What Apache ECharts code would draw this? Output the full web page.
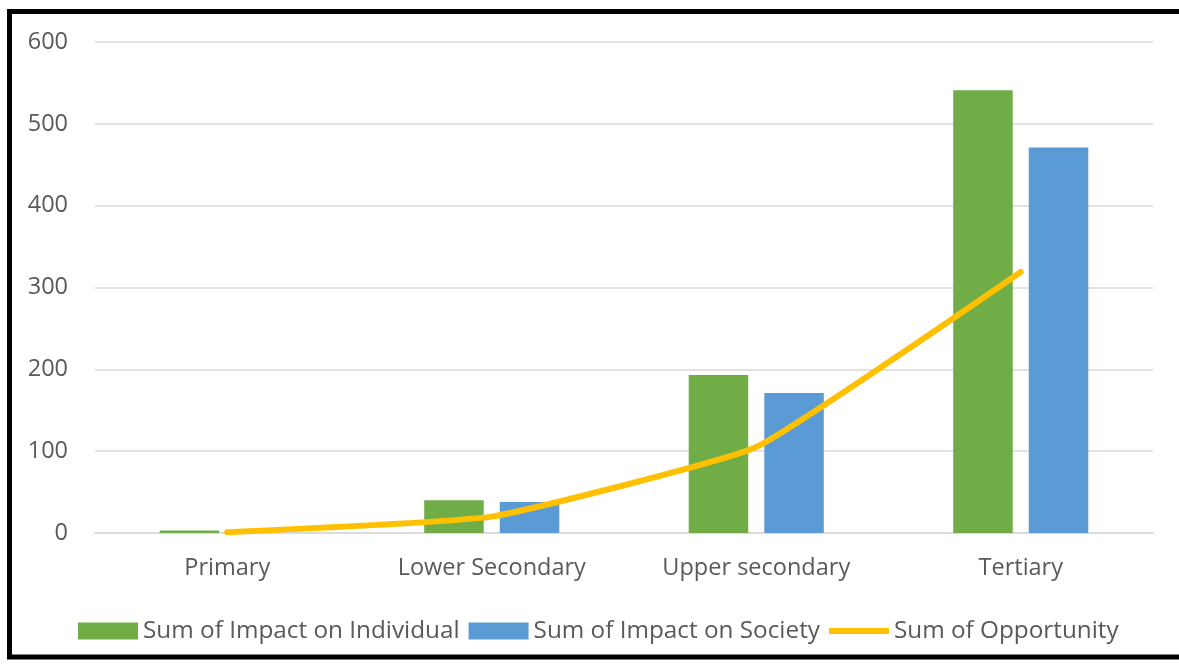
<!DOCTYPE html>
<html>
<head>
<meta charset="utf-8">
<script src="https://cdn.jsdelivr.net/npm/echarts@6/dist/echarts.min.js"></script>
<style>
html,body{margin:0;padding:0;background:#fff;}
#chart{width:1179px;height:665px;}
</style>
</head>
<body>
<div id="chart"></div>
<script>
const categories = ['Primary', 'Lower Secondary', 'Upper secondary', 'Tertiary'];
const impactIndividual = [3, 40, 193, 541];
const impactSociety = [0, 38, 171, 471];
const opportunity = [1, 20, 105, 319];
const yTicks = { min: 0, max: 600, interval: 100 };

const FONT = '"Open Sans", sans-serif';
const lineIcon = 'path://M0,0 L0.01,0 L0.01,0.01 Z M0,5.5 L60,5.5 L60,11.5 L0,11.5 Z M59.99,16.99 L60,16.99 L60,17 Z';
const chart = echarts.init(document.getElementById('chart'));
chart.setOption({
  backgroundColor: '#ffffff',
  animation: false,
  graphic: [{
    type: 'rect',
    shape: { x: 9.5, y: 11.5, width: 1200, height: 645.5 },
    style: { fill: 'none', stroke: '#000', lineWidth: 5 },
    silent: true
  }],
  grid: { left: 95, right: 26, top: 42, bottom: 132, containLabel: false },
  legend: {
    top: 614,
    left: 73,
    itemWidth: 60,
    itemHeight: 17,
    itemGap: 9,
    textStyle: { color: '#595959', fontSize: 24.3, fontFamily: FONT, padding: [0, 0, 0, 0] },
    data: [
      { name: 'Sum of Impact on Individual', icon: 'rect' },
      { name: 'Sum of Impact on Society', icon: 'rect' },
      { name: 'Sum of Opportunity', icon: lineIcon, itemStyle: { color: '#FFC000' } }
    ]
  },
  xAxis: {
    type: 'category',
    data: categories,
    axisLine: { show: true, lineStyle: { color: '#d9d9d9', width: 1.5 } },
    axisTick: { show: false },
    axisLabel: { color: '#595959', fontSize: 23.5, fontFamily: FONT, margin: 23 }
  },
  yAxis: {
    type: 'value',
    min: yTicks.min, max: yTicks.max, interval: yTicks.interval,
    axisLine: { show: false },
    axisTick: { show: false },
    splitLine: { lineStyle: { color: '#d9d9d9', width: 1.5 } },
    axisLabel: { color: '#595959', fontSize: 23.5, fontFamily: FONT, margin: 27 }
  },
  series: [
    {
      name: 'Sum of Impact on Individual', type: 'bar', data: impactIndividual,
      barWidth: '22.5%', barGap: '27%',
      itemStyle: { color: '#70AD47' }
    },
    {
      name: 'Sum of Impact on Society', type: 'bar', data: impactSociety,
      barWidth: '22.5%', barGap: '27%',
      itemStyle: { color: '#5B9BD5' }
    },
    {
      name: 'Sum of Opportunity', type: 'line', data: opportunity,
      symbol: 'none', smooth: 0.12,
      lineStyle: { color: '#FFC000', width: 6, cap: 'round' },
      itemStyle: { color: '#FFC000' }
    }
  ]
});
</script>
</body>
</html>
